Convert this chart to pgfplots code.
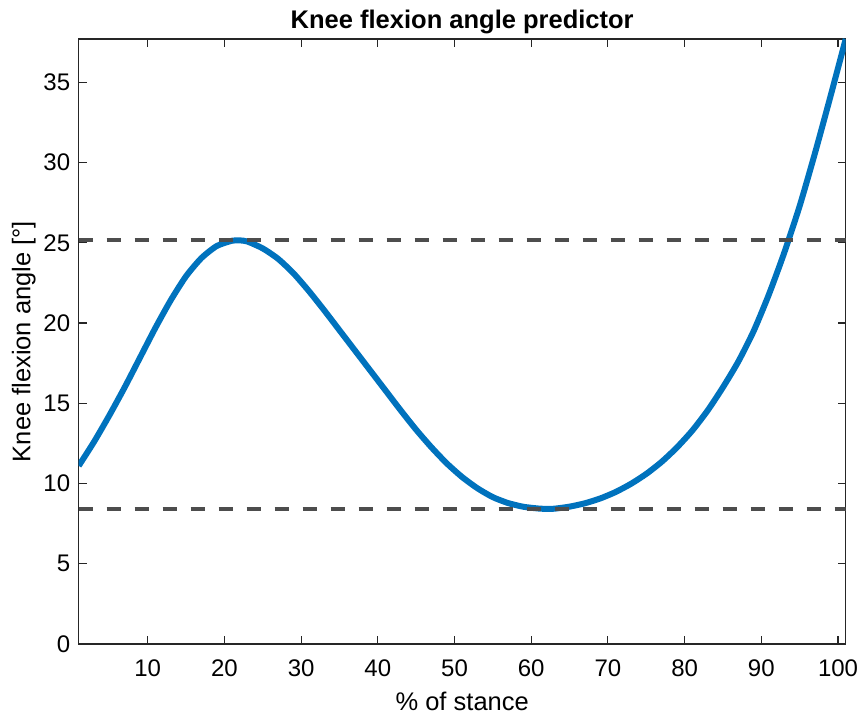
\documentclass[border=0pt]{standalone}
\usepackage{fontspec}
\setmainfont{Liberation Sans}
\usepackage{pgfplots}
\pgfplotsset{compat=1.18}
\definecolor{mblue}{HTML}{0072BD}
\definecolor{axgray}{HTML}{262626}
\definecolor{dashgray}{HTML}{4D4D4D}
\begin{document}
\begin{tikzpicture}
\useasboundingbox (-78.7pt,-74pt) rectangle (780.3pt,644pt);
\begin{axis}[
  at={(0pt,0pt)}, anchor=south west,
  scale only axis, width=767pt, height=605pt,
  xmin=1, xmax=101, ymin=0, ymax=37.7,
  xtick={10,20,...,100}, ytick={0,5,...,35},
  tick align=inside, major tick length=8pt,
  axis line style={color=axgray, line width=1.1pt},
  every tick/.style={color=axgray, line width=1.1pt},
  tick label style={font=\fontsize{24}{28}\selectfont, color=black},
  xticklabel style={yshift=-12pt},
  yticklabel style={xshift=-5pt},
  /pgf/number format/assume math mode=true,
  title={\bfseries Knee flexion angle predictor},
  title style={font=\fontsize{25.5}{30}\selectfont, yshift=-4pt},
  xlabel={\% of stance}, ylabel={Knee flexion angle [°]},
  label style={font=\fontsize{25.5}{30}\selectfont},
  xlabel style={yshift=-9pt},
  ylabel style={yshift=1pt},
  clip=true,
]
\addplot[mblue, line width=6pt, smooth, tension=0.4] coordinates {
(1,11.1) (3,12.6) (5,14.25) (7,16.0) (9,17.85) (11,19.7) (13,21.42) (15,22.92)
(17,24.05) (19,24.8) (21,25.13) (22,25.15) (23,25.08) (25,24.65) (27,24.0)
(29,23.1) (31,22.0) (33,20.8) (35,19.55) (37,18.3) (39,17.05) (41,15.8)
(43,14.55) (45,13.35) (47,12.25) (49,11.25) (51,10.4) (53,9.7) (55,9.15)
(57,8.78) (59,8.55) (61,8.44) (62,8.42) (63,8.43) (65,8.56) (67,8.77) (69,9.07)
(71,9.47) (73,9.98) (75,10.6) (77,11.35) (79,12.25) (81,13.3) (83,14.55)
(85,16.0) (87,17.6) (89,19.5) (91,21.8) (93,24.4) (95,27.3) (97,30.6)
(99,34.1) (101,37.7)
};
\addplot[dashgray, line width=4pt, dash pattern=on 14pt off 14pt] coordinates {(1,25.15) (101,25.15)};
\addplot[dashgray, line width=4pt, dash pattern=on 14pt off 14pt] coordinates {(1,8.42) (101,8.42)};
\end{axis}
\end{tikzpicture}
\end{document}
